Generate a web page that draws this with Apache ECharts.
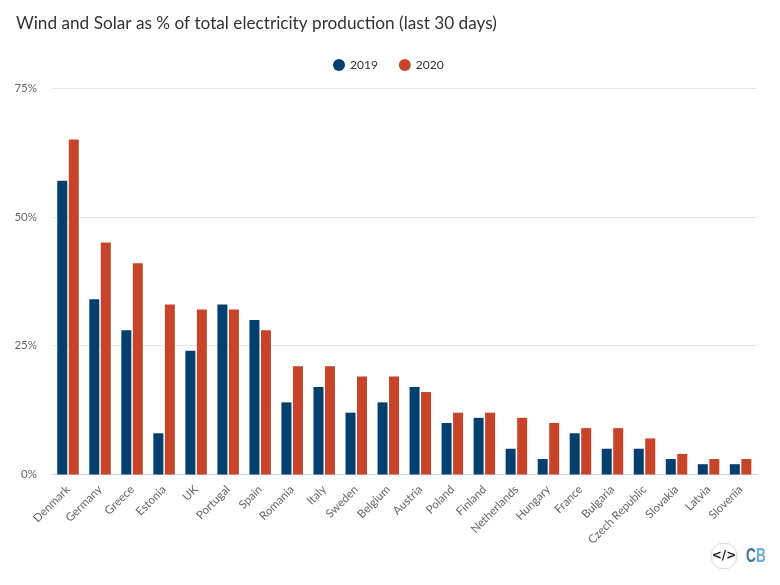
<!DOCTYPE html>
<html>
<head>
<meta charset="utf-8">
<style>
  html, body { margin: 0; padding: 0; background: #fff; }
  #main { width: 780px; height: 585px; }
</style>
<script src="https://cdn.jsdelivr.net/npm/echarts@6/dist/echarts.min.js"></script>
</head>
<body>
<div id="main"></div>
<script>
const countries = ['Denmark', 'Germany', 'Greece', 'Estonia', 'UK', 'Portugal', 'Spain', 'Romania', 'Italy', 'Sweden', 'Belgium', 'Austria', 'Poland', 'Finland', 'Netherlands', 'Hungary', 'France', 'Bulgaria', 'Czech Republic', 'Slovakia', 'Latvia', 'Slovenia'];
const values2019 = [57, 34, 28, 8, 24, 33, 30, 14, 17, 12, 14, 17, 10, 11, 5, 3, 8, 5, 5, 3, 2, 2];
const values2020 = [65, 45, 41, 33, 32, 32, 28, 21, 21, 19, 19, 16, 12, 12, 11, 10, 9, 9, 7, 4, 3, 3];

const fontName = 'Lato';

const myChart = echarts.init(document.getElementById('main'), null, { renderer: 'canvas' });

myChart.setOption({
    backgroundColor: '#fff',
    animation: false,
    textStyle: { fontFamily: fontName },
    title: {
        text: 'Wind and Solar as % of total electricity production (last 30 days)',
        left: 11,
        top: 10,
        textStyle: { fontFamily: fontName, fontSize: 17.2, fontWeight: 'normal', color: '#333' }
    },
    legend: {
        data: ['2019', '2020'],
        top: 54,
        left: 328,
        icon: 'circle',
        itemWidth: 12,
        itemHeight: 12,
        itemGap: 21,
        textStyle: { fontFamily: fontName, fontSize: 12, color: '#333' }
    },
    grid: { left: 52, right: 23.4, top: 88, bottom: 110.5 },
    xAxis: {
        type: 'category',
        data: countries,
        axisTick: { show: false },
        axisLine: { lineStyle: { color: '#ccd6eb' } },
        axisLabel: { rotate: 45, interval: 0, fontSize: 11.5, color: '#666', margin: 13 }
    },
    yAxis: {
        type: 'value',
        min: 0,
        max: 75,
        interval: 25,
        axisLine: { show: false },
        axisTick: { show: false },
        axisLabel: { formatter: '{value}%', fontSize: 11.5, color: '#666', margin: 15 },
        splitLine: { lineStyle: { color: '#e6e6e6' } }
    },
    series: [
        { name: '2019', type: 'bar', data: values2019, barWidth: 10, barGap: '15%', itemStyle: { color: '#053f6e' } },
        { name: '2020', type: 'bar', data: values2020, barWidth: 10, itemStyle: { color: '#c7432a' } }
    ],
    // Carbon Brief logo, bottom right
    graphic: [
        { type: 'circle', shape: { cx: 724, cy: 556, r: 13 }, style: { fill: '#fff', stroke: '#ddd8d8', lineWidth: 1 } },
        { type: 'text', style: { x: 724, y: 556, text: '</>', align: 'center', verticalAlign: 'middle', font: 'bold 12px "DejaVu Sans"', fill: '#222' } },
        { type: 'text', x: 746, y: 556, scaleX: 0.68, style: { x: 0, y: 0, text: 'C', verticalAlign: 'middle', font: 'bold 20px "Liberation Sans"', fill: '#3f6f9e' } },
        { type: 'text', x: 756, y: 556, scaleX: 0.68, style: { x: 0, y: 0, text: 'B', verticalAlign: 'middle', font: 'bold 20px "Liberation Sans"', fill: '#6aaede' } }
    ]
});

window.addEventListener('resize', () => {
    myChart.resize();
});
</script>
</body>
</html>
